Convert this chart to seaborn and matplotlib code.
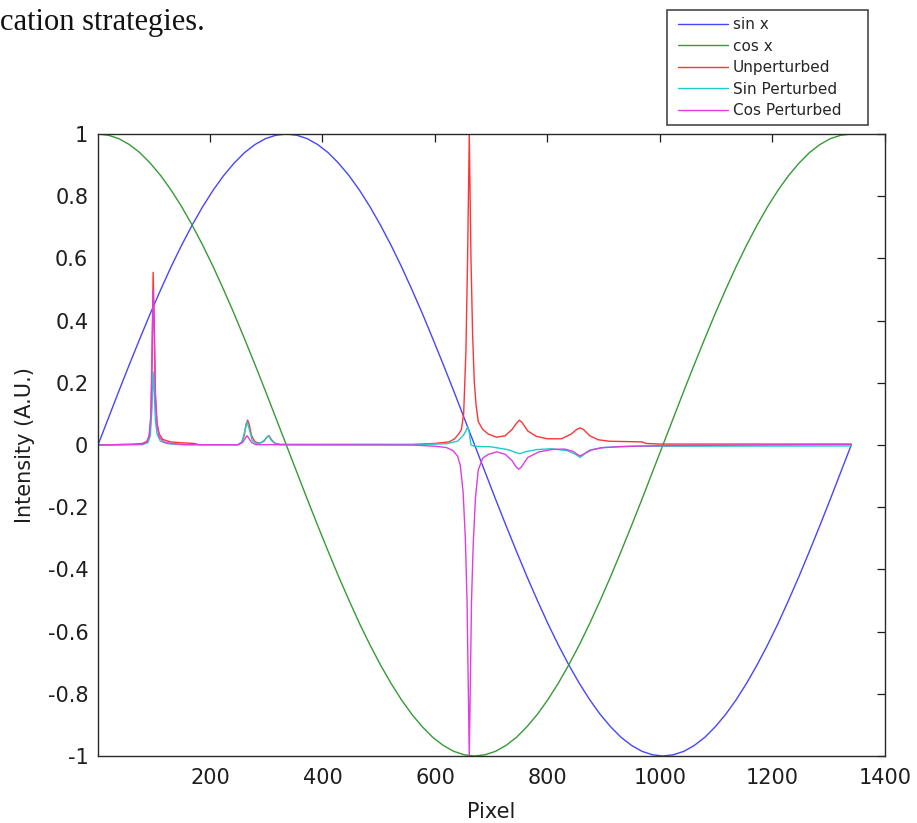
import numpy as np
import pandas as pd
import matplotlib
matplotlib.use("Agg")
import matplotlib.pyplot as plt
from matplotlib.lines import Line2D
from matplotlib.legend_handler import HandlerLine2D
import seaborn as sns

# Reference sinusoids over the detector width (pixels 1..1340), sampled every 5 degrees
phase_pixels = np.linspace(1, 1340, 73)
sin_vals = [0.0, 0.087, 0.174, 0.259, 0.342, 0.423, 0.5, 0.574, 0.643, 0.707, 0.766, 0.819,
            0.866, 0.906, 0.940, 0.966, 0.985, 0.996, 1.0, 0.996, 0.985, 0.966, 0.940, 0.906,
            0.866, 0.819, 0.766, 0.707, 0.643, 0.574, 0.5, 0.423, 0.342, 0.259, 0.174, 0.087,
            0.0, -0.087, -0.174, -0.259, -0.342, -0.423, -0.5, -0.574, -0.643, -0.707, -0.766,
            -0.819, -0.866, -0.906, -0.940, -0.966, -0.985, -0.996, -1.0, -0.996, -0.985,
            -0.966, -0.940, -0.906, -0.866, -0.819, -0.766, -0.707, -0.643, -0.574, -0.5,
            -0.423, -0.342, -0.259, -0.174, -0.087, 0.0]
cos_vals = [1.0, 0.996, 0.985, 0.966, 0.940, 0.906, 0.866, 0.819, 0.766, 0.707, 0.643, 0.574,
            0.5, 0.423, 0.342, 0.259, 0.174, 0.087, 0.0, -0.087, -0.174, -0.259, -0.342,
            -0.423, -0.5, -0.574, -0.643, -0.707, -0.766, -0.819, -0.866, -0.906, -0.940,
            -0.966, -0.985, -0.996, -1.0, -0.996, -0.985, -0.966, -0.940, -0.906, -0.866,
            -0.819, -0.766, -0.707, -0.643, -0.574, -0.5, -0.423, -0.342, -0.259, -0.174,
            -0.087, 0.0, 0.087, 0.174, 0.259, 0.342, 0.423, 0.5, 0.574, 0.643, 0.707, 0.766,
            0.819, 0.866, 0.906, 0.940, 0.966, 0.985, 0.996, 1.0]

# Unperturbed spectrum
unpert_px = [1, 60, 80, 88, 92, 95, 97, 99, 101, 103, 106, 110, 116, 130, 150, 172, 180, 250,
             256, 261, 264, 267, 270, 274, 280, 288, 296, 301, 305, 309, 315, 325, 560, 600,
             625, 635, 642, 647, 651, 655, 658, 661, 664, 667, 670, 673, 677, 685, 695, 710,
             725, 737, 745, 750, 755, 765, 780, 800, 825, 842, 852, 858, 864, 875, 890, 910,
             940, 968, 975, 1000, 1340]
unpert_vals = [0.0, 0.002, 0.005, 0.012, 0.03, 0.08, 0.25, 0.555, 0.4, 0.17, 0.07, 0.035,
               0.018, 0.01, 0.007, 0.005, 0.001, 0.001, 0.008, 0.03, 0.065, 0.08, 0.065, 0.03,
               0.01, 0.006, 0.012, 0.025, 0.03, 0.018, 0.006, 0.002, 0.002, 0.005, 0.01, 0.02,
               0.035, 0.05, 0.1, 0.3, 0.6, 1.0, 0.6, 0.35, 0.2, 0.13, 0.075, 0.05, 0.035,
               0.025, 0.03, 0.05, 0.07, 0.08, 0.072, 0.045, 0.028, 0.02, 0.02, 0.035, 0.05,
               0.055, 0.05, 0.03, 0.017, 0.012, 0.011, 0.01, 0.005, 0.003, 0.003]

# Sine-perturbed spectrum
sinp_px = [1, 80, 90, 94, 97, 99, 101, 103, 106, 112, 125, 150, 250, 257, 262, 266, 270, 275,
           282, 292, 299, 304, 309, 316, 325, 560, 620, 640, 650, 655, 658, 661, 664, 670, 700,
           730, 745, 751, 760, 780, 805, 835, 850, 858, 866, 880, 900, 950, 1340]
sinp_vals = [0.0, 0.001, 0.008, 0.03, 0.12, 0.235, 0.17, 0.08, 0.035, 0.012, 0.004, 0.001,
             0.001, 0.01, 0.045, 0.075, 0.05, 0.015, 0.005, 0.008, 0.02, 0.03, 0.015, 0.004,
             0.001, 0.001, 0.004, 0.012, 0.03, 0.045, 0.058, 0.04, 0.0, -0.004, -0.006,
             -0.015, -0.025, -0.028, -0.022, -0.015, -0.012, -0.018, -0.03, -0.04, -0.028,
             -0.015, -0.008, -0.004, -0.003]

# Cosine-perturbed spectrum
cosp_px = [1, 80, 88, 92, 95, 97, 99, 101, 103, 106, 110, 118, 135, 160, 250, 258, 263, 266,
           269, 274, 282, 560, 600, 620, 632, 640, 645, 650, 654, 657, 659, 661, 663, 665, 668,
           672, 677, 685, 695, 710, 725, 737, 744, 749, 754, 765, 785, 810, 830, 845, 853, 858,
           864, 875, 895, 930, 1000, 1340]
cosp_vals = [0.0, 0.003, 0.01, 0.03, 0.1, 0.3, 0.5, 0.35, 0.15, 0.06, 0.025, 0.01, 0.004,
             0.001, 0.001, 0.008, 0.022, 0.03, 0.022, 0.008, 0.001, 0.0, -0.004, -0.008,
             -0.018, -0.035, -0.065, -0.15, -0.3, -0.5, -0.75, -1.0, -0.75, -0.5, -0.32,
             -0.17, -0.08, -0.042, -0.03, -0.022, -0.03, -0.05, -0.07, -0.078, -0.07, -0.04,
             -0.022, -0.014, -0.013, -0.02, -0.03, -0.035, -0.03, -0.017, -0.009, -0.005,
             -0.002, 0.002]

series_names = ["sin x", "cos x", "Unperturbed", "Sin Perturbed", "Cos Perturbed"]
series_colors = ["#4646ff", "#369a36", "#ff3434", "#1ccccc", "#e03ce0"]

x_ticks = [200, 400, 600, 800, 1000, 1200, 1400]
y_ticks = [-1, -0.8, -0.6, -0.4, -0.2, 0, 0.2, 0.4, 0.6, 0.8, 1]
y_tick_labels = ["-1", "-0.8", "-0.6", "-0.4", "-0.2", "0", "0.2", "0.4", "0.6", "0.8", "1"]

frames = [
    pd.DataFrame({"Pixel": phase_pixels, "Intensity": sin_vals, "series": series_names[0]}),
    pd.DataFrame({"Pixel": phase_pixels, "Intensity": cos_vals, "series": series_names[1]}),
    pd.DataFrame({"Pixel": unpert_px, "Intensity": unpert_vals, "series": series_names[2]}),
    pd.DataFrame({"Pixel": sinp_px, "Intensity": sinp_vals, "series": series_names[3]}),
    pd.DataFrame({"Pixel": cosp_px, "Intensity": cosp_vals, "series": series_names[4]}),
]
df = pd.concat(frames, ignore_index=True)

sns.set_theme(style="white")
plt.rcParams["font.family"] = ["DejaVu Sans"]
plt.rcParams["axes.unicode_minus"] = False

fig = plt.figure(figsize=(9.17, 8.23), dpi=100)
ax = fig.add_axes([98 / 917, 1 - 756 / 823, (885 - 98) / 917, (756 - 134) / 823])

sns.lineplot(data=df, x="Pixel", y="Intensity", hue="series", hue_order=series_names,
             palette=series_colors, estimator=None, sort=False, linewidth=1.0,
             legend=False, ax=ax)

ax.set_xlim(1, 1400)
ax.set_ylim(-1, 1)
ax.set_xticks(x_ticks)
ax.set_xticklabels([str(t) for t in x_ticks])
ax.set_yticks(y_ticks)
ax.set_yticklabels(y_tick_labels)
ax.tick_params(direction="in", length=5.6, width=0.9, top=True, right=True,
               labelsize=15, colors="#1e1e1e")
ax.tick_params(axis="x", pad=9)
ax.tick_params(axis="y", pad=7)
for sp in ax.spines.values():
    sp.set_visible(True)
    sp.set_color("#2a2a2a")
    sp.set_linewidth(1.0)

ax.set_xlabel("Pixel", fontsize=15, color="#1e1e1e", labelpad=10)
ax.set_ylabel("Intensity (A.U.)", fontsize=15, color="#1e1e1e", labelpad=9)

leg = ax.legend(ax.lines[:5], series_names, loc="upper left",
                bbox_to_anchor=(667 / 917, 1 - 10 / 823, 201 / 917, 0.0),
                bbox_transform=fig.transFigure, mode="expand", borderaxespad=0,
                fontsize=11, handlelength=3.51, handletextpad=0.33, labelspacing=0.42,
                borderpad=0.48, frameon=True, fancybox=False,
                handler_map={Line2D: HandlerLine2D(xpad=0.25)})
leg.get_frame().set_edgecolor("#1a1a1a")
leg.get_frame().set_linewidth(1.2)

fig.text(0.0, 1 - 30 / 823, "cation strategies.", family="Liberation Serif", fontsize=22,
         ha="left", va="baseline", color="#111111")

fig.savefig("out.png", dpi=100)
